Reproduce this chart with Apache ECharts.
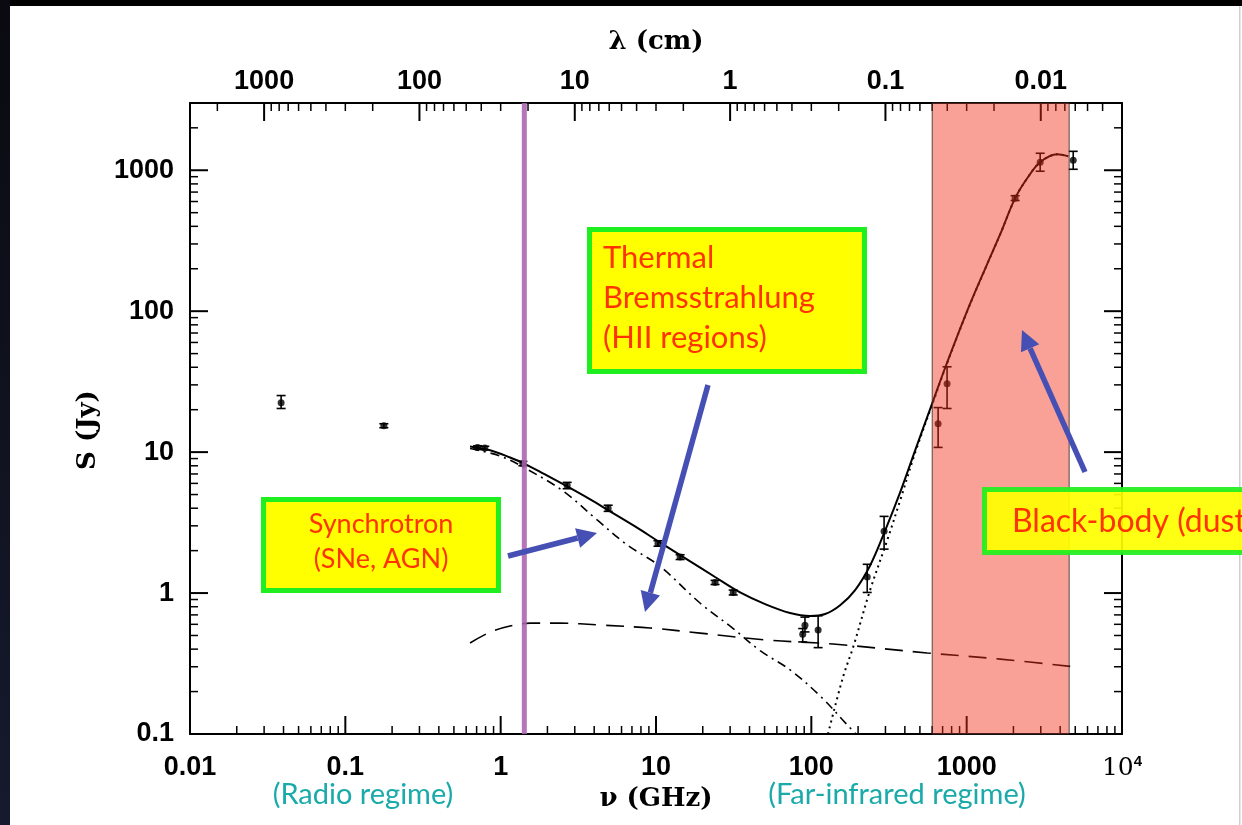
<!DOCTYPE html>
<html>
<head>
<meta charset="utf-8">
<script src="https://cdn.jsdelivr.net/npm/echarts@6/dist/echarts.min.js"></script>
<style>
  html, body { margin: 0; padding: 0; background: #fff; }
  #chart { width: 1242px; height: 825px; }
</style>
</head>
<body>
<div id="chart"></div>
<script>
// ---- Axis ranges and tick labels ----
const freqMin = 0.01, freqMax = 10000;          // GHz
const fluxMin = 0.1, fluxMax = 3000;            // Jy
const freqTicks = [0.01, 0.1, 1, 10, 100, 1000, 10000];
const fluxTicks = [0.1, 1, 10, 100, 1000];
const lambdaTicks = [1000, 100, 10, 1, 0.1, 0.01];   // cm
const lightSpeed = 30;                          // GHz * cm

// ---- Measured flux densities ----
const obsFreq = [0.0386, 0.177, 0.71, 0.79, 1.39, 2.68, 4.92, 10.3, 14.3, 24.0, 31.4, 91, 88, 110.6, 229, 294, 655, 748, 2051, 2973, 4853];
const obsFlux = [22.4, 15.4, 10.8, 10.7, 8.3, 5.8, 4.0, 2.25, 1.8, 1.19, 1.01, 0.59, 0.51, 0.546, 1.30, 2.74, 15.9, 30.6, 634, 1140, 1178];
const obsLow  = [20.4, 14.9, 10.5, 10.4, 8.0, 5.5, 3.8, 2.15, 1.73, 1.15, 0.97, 0.53, 0.45, 0.41, 1.01, 2.05, 10.8, 20.4, 610, 984, 1016];
const obsHigh = [25.2, 15.9, 11.1, 11.0, 8.6, 6.1, 4.2, 2.35, 1.87, 1.23, 1.05, 0.675, 0.56, 0.69, 1.60, 3.50, 20.7, 40.3, 660, 1320, 1362];

// ---- Model components ----
const totalFreq = [0.635, 0.855, 1.15, 1.42, 1.93, 2.68, 3.77, 5.06, 7.33, 10.6, 16.6, 24.0, 34.8, 50.4, 73.0, 98.2, 122.7, 153.2, 191.4, 239, 299, 373, 466, 609, 727, 1008, 1355, 1644, 2051, 2453, 2972, 3828, 4506];
const totalFlux = [10.96, 10.3, 9.16, 8.3, 6.94, 5.71, 4.62, 3.80, 2.97, 2.29, 1.68, 1.30, 1.01, 0.834, 0.721, 0.687, 0.710, 0.820, 1.05, 1.57, 2.79, 5.18, 10.3, 23.2, 39.7, 100.5, 216, 352, 634, 878, 1140, 1298, 1257];

const synchFreq = [0.635, 0.99, 1.42, 2.52, 4.18, 6.51, 10.6, 19.2, 31.4, 46.8, 73.0, 114, 173, 194];
const synchFlux = [10.6, 9.4, 7.75, 5.3, 3.3, 2.2, 1.55, 0.85, 0.56, 0.39, 0.285, 0.186, 0.114, 0.1];

const ffFreq = [0.635, 0.855, 1.15, 1.55, 2.41, 4.37, 9.16, 19.2, 51.9, 138, 557, 1644, 5000];
const ffFlux = [0.442, 0.528, 0.583, 0.612, 0.612, 0.593, 0.565, 0.520, 0.464, 0.435, 0.376, 0.340, 0.299];

const dustFreq = [128, 160, 186, 239, 308, 373, 466, 609, 727, 1008, 1355, 1644, 2051, 2453, 2972, 3828, 4506];
const dustFlux = [0.1, 0.254, 0.414, 1.05, 2.37, 4.54, 9.9, 22.8, 39.3, 100, 215, 351, 633, 877, 1139, 1297, 1256];

// ---- Highlights ----
const farIrBand = [600, 4570];   // GHz
const hiLineFreq = 1.42;         // GHz

const pairs = (xs, ys) => xs.map((x, i) => [x, ys[i]]);

// minor tick values (2..9 x 10^n) inside [lo, hi]
function minorTicks(lo, hi) {
  const out = [];
  for (let e = Math.floor(Math.log10(lo)) - 1; e <= Math.ceil(Math.log10(hi)); e++) {
    for (let m = 2; m <= 9; m++) {
      const v = Number((m * Math.pow(10, e)).toPrecision(6));
      if (v >= lo * 0.9999 && v <= hi * 1.0001) out.push(v);
    }
  }
  return out;
}
const freqMinor = minorTicks(freqMin, freqMax);
const fluxMinor = minorTicks(fluxMin, fluxMax);
const lambdaMinor = minorTicks(lightSpeed / freqMax, lightSpeed / freqMin).map(l => lightSpeed / l);
const lambdaMajorAsFreq = lambdaTicks.map(l => lightSpeed / l);

const tickFont = { color: '#000', fontSize: 27, fontWeight: 'bold', fontFamily: 'Liberation Sans' };
const titleFont = { color: '#000', fontSize: 26, fontWeight: 'bold', fontFamily: 'DejaVu Serif' };
const frameLine = { show: true, onZero: false, lineStyle: { color: '#000', width: 2 } };

function logAxis(extra) {
  return Object.assign({
    type: 'log', logBase: 10, gridIndex: 0,
    axisTick: { show: false },
    splitLine: { show: false }, minorTick: { show: false }, minorSplitLine: { show: false },
    axisPointer: { show: false }
  }, extra);
}
const fmtNum = v => String(Number(v.toPrecision(3)));

const xAxes = [
  logAxis({
    min: freqMin, max: freqMax, position: 'bottom', axisLine: frameLine,
    axisLabel: {
      customValues: freqTicks, margin: 20, showMinLabel: true, showMaxLabel: true, hideOverlap: false,
      formatter: v => v >= 10000 ? '{n|10}{s|4}' : fmtNum(v),
      rich: { n: Object.assign({}, tickFont, { fontWeight: 'normal', fontFamily: 'DejaVu Serif', fontSize: 25 }),
              s: Object.assign({}, tickFont, { fontSize: 15, verticalAlign: 'top', padding: [0, 0, 14, 0] }) },
      ...tickFont
    },
    name: 'ν (GHz)', nameLocation: 'middle', nameGap: 52, nameTextStyle: titleFont
  }),
  logAxis({
    min: freqMin, max: freqMax, position: 'top', axisLine: frameLine,
    axisLabel: {
      customValues: lambdaMajorAsFreq, margin: 8, showMinLabel: true, showMaxLabel: true, hideOverlap: false,
      formatter: v => fmtNum(lightSpeed / v), ...tickFont
    },
    name: 'λ (cm)', nameLocation: 'middle', nameGap: 48, nameTextStyle: titleFont
  })
];

const yAxes = [
  logAxis({
    min: fluxMin, max: fluxMax, position: 'left', axisLine: frameLine,
    axisLabel: { customValues: fluxTicks, margin: 16, showMinLabel: true, showMaxLabel: true, hideOverlap: false, formatter: fmtNum, ...tickFont }
  }),
  logAxis({ min: fluxMin, max: fluxMax, position: 'right', axisLine: frameLine, axisLabel: { show: false } })
];

// inward tick marks on one side of the frame, placed through the axes' own scales
function tickSeries(values, side, len, width) {
  const horizontal = side === 'bottom' || side === 'top';
  const data = values.map(v => horizontal ? [v, side === 'bottom' ? fluxMin : fluxMax] : [side === 'left' ? freqMin : freqMax, v]);
  return {
    type: 'custom', xAxisIndex: 0, yAxisIndex: 0, silent: true, z: 1, clip: false,
    data, encode: { x: 0, y: 1 },
    renderItem: (params, api) => {
      const p = api.coord([api.value(0), api.value(1)]);
      const d = { bottom: [0, -len], top: [0, len], left: [len, 0], right: [-len, 0] }[side];
      return { type: 'line', shape: { x1: p[0], y1: p[1], x2: p[0] + d[0], y2: p[1] + d[1] },
               style: { stroke: '#000', lineWidth: width } };
    }
  };
}

function lineSeries(name, xs, ys, style, z) {
  return {
    name, type: 'line', xAxisIndex: 0, yAxisIndex: 0, data: pairs(xs, ys),
    showSymbol: false, symbol: 'none', smooth: 0.35, z: z || 2, silent: true,
    lineStyle: Object.assign({ color: '#000', width: 1.6 }, style)
  };
}

// ---- Callout helpers ----
const boxGreen = '#1FEF1F', boxYellow = '#FFFF00', boxText = '#FF3300', arrowBlue = '#4650B4';
function labelBox(x, y, w, h, text, font, tx, ty, align, lineHeight, opacity) {
  return {
    type: 'group', z: 100,
    children: [
      { type: 'rect', shape: { x: x + 2.5, y: y + 2.5, width: w - 5, height: h - 5 },
        style: { fill: boxYellow, stroke: boxGreen, lineWidth: 5, opacity: opacity || 1 }, z: 100 },
      { type: 'text', z: 101,
        style: { x: tx, y: ty, text, font, fill: boxText, align, verticalAlign: 'top', lineHeight } }
    ]
  };
}
function arrow(x1, y1, x2, y2) {
  const ang = Math.atan2(y2 - y1, x2 - x1);
  const hl = 20, hw = 10;
  const bx = x2 - hl * Math.cos(ang), by = y2 - hl * Math.sin(ang);
  const px = -Math.sin(ang) * hw, py = Math.cos(ang) * hw;
  return {
    type: 'group', z: 102,
    children: [
      { type: 'line', z: 102, shape: { x1, y1, x2: bx, y2: by }, style: { stroke: arrowBlue, lineWidth: 5.5 } },
      { type: 'polygon', z: 102, shape: { points: [[x2, y2], [bx + px, by + py], [bx - px, by - py]] }, style: { fill: arrowBlue } }
    ]
  };
}

const chart = echarts.init(document.getElementById('chart'), null, { renderer: 'canvas' });
chart.setOption({
  backgroundColor: '#ffffff',
  animation: false,
  grid: { left: 190, top: 103, width: 932, height: 631, containLabel: false },
  xAxis: xAxes,
  yAxis: yAxes,
  series: [
    tickSeries(freqTicks, 'bottom', 18, 2),
    tickSeries(freqMinor, 'bottom', 8, 1.5),
    tickSeries(lambdaMajorAsFreq, 'top', 18, 2),
    tickSeries(lambdaMinor, 'top', 8, 1.5),
    tickSeries(fluxTicks, 'left', 18, 2),
    tickSeries(fluxMinor, 'left', 8, 1.5),
    tickSeries(fluxTicks, 'right', 18, 2),
    tickSeries(fluxMinor, 'right', 8, 1.5),
    lineSeries('Thermal bremsstrahlung', ffFreq, ffFlux, { type: [18, 10], width: 1.6 }),
    lineSeries('Synchrotron', synchFreq, synchFlux, { type: [9, 5, 2, 5], width: 1.6 }),
    lineSeries('Dust', dustFreq, dustFlux, { type: [2, 4], width: 2 }),
    lineSeries('Total', totalFreq, totalFlux, { width: 2 }),
    {
      name: 'Error', type: 'custom', xAxisIndex: 0, yAxisIndex: 0, silent: true, z: 3,
      data: obsFreq.map((f, i) => [f, obsLow[i], obsHigh[i]]),
      encode: { x: 0, y: [1, 2] },
      renderItem: (params, api) => {
        const lo = api.coord([api.value(0), api.value(1)]);
        const hi = api.coord([api.value(0), api.value(2)]);
        const w = 4.5, st = { stroke: '#000', lineWidth: 1.6 };
        return { type: 'group', children: [
          { type: 'line', shape: { x1: lo[0], y1: lo[1], x2: hi[0], y2: hi[1] }, style: st },
          { type: 'line', shape: { x1: lo[0] - w, y1: lo[1], x2: lo[0] + w, y2: lo[1] }, style: st },
          { type: 'line', shape: { x1: hi[0] - w, y1: hi[1], x2: hi[0] + w, y2: hi[1] }, style: st }
        ] };
      }
    },
    {
      name: 'Observed', type: 'scatter', xAxisIndex: 0, yAxisIndex: 0, silent: true, z: 3,
      data: pairs(obsFreq, obsFlux), symbol: 'circle', symbolSize: 7,
      itemStyle: { color: '#000' }
    },
    {
      name: 'HI 21 cm', type: 'line', xAxisIndex: 0, yAxisIndex: 0, silent: true, z: 4,
      data: [[hiLineFreq, fluxMin], [hiLineFreq, fluxMax]], symbol: 'none',
      lineStyle: { color: 'rgba(172,98,178,0.88)', width: 5 }
    },
    {
      name: 'Far-infrared band', type: 'custom', xAxisIndex: 0, yAxisIndex: 0, silent: true, z: 5,
      data: [[farIrBand[0], farIrBand[1]]],
      encode: { x: [0, 1] },
      renderItem: (params, api) => {
        const a = api.coord([api.value(0), fluxMax]);
        const b = api.coord([api.value(1), fluxMin]);
        return { type: 'rect', shape: { x: a[0], y: a[1], width: b[0] - a[0], height: b[1] - a[1] },
                 style: { fill: 'rgba(242,46,22,0.45)', stroke: 'rgba(40,40,40,0.8)', lineWidth: 1 } };
      }
    }
  ],
  graphic: [
    // slide frame
    { type: 'rect', z: 1, shape: { x: 1239, y: 6, width: 1.5, height: 819 }, style: { fill: '#d0d0d0' } },
    { type: 'rect', z: 200, shape: { x: 0, y: 0, width: 1242, height: 6 }, style: { fill: '#000' } },
    { type: 'rect', z: 200, shape: { x: 0, y: 0, width: 10, height: 825 },
      style: { fill: new echarts.graphic.LinearGradient(0, 0, 0, 1, [{ offset: 0, color: '#0a0a10' }, { offset: 1, color: '#161a2e' }]) } },
    // vertical axis title
    { type: 'text', z: 100, x: 88, y: 430, rotation: Math.PI / 2,
      style: { text: 'S (Jy)', font: 'bold 26px "DejaVu Serif"', fill: '#000', align: 'center', verticalAlign: 'middle' } },
    // callouts
    labelBox(587, 227, 280, 147, 'Thermal\nBremsstrahlung\n(HII regions)', '31px Lato', 603, 238, 'left', 40),
    labelBox(261, 497, 240, 96, 'Synchrotron\n(SNe, AGN)', '27px Lato', 381, 507, 'center', 35),
    labelBox(982, 487, 320, 68, 'Black-body (dust)', '32px Lato', 1012, 503, 'left', 37, 0.92),
    arrow(508, 556, 597, 533),
    arrow(708, 385, 645, 612),
    arrow(1085, 472, 1022, 330),
    // frequency regimes
    { type: 'text', z: 100, style: { x: 363, y: 795, text: '(Radio regime)', font: '29px Lato', fill: '#1AAAAA', align: 'center', verticalAlign: 'middle' } },
    { type: 'text', z: 100, style: { x: 897, y: 795, text: '(Far-infrared regime)', font: '29px Lato', fill: '#1AAAAA', align: 'center', verticalAlign: 'middle' } }
  ]
});
</script>
</body>
</html>
